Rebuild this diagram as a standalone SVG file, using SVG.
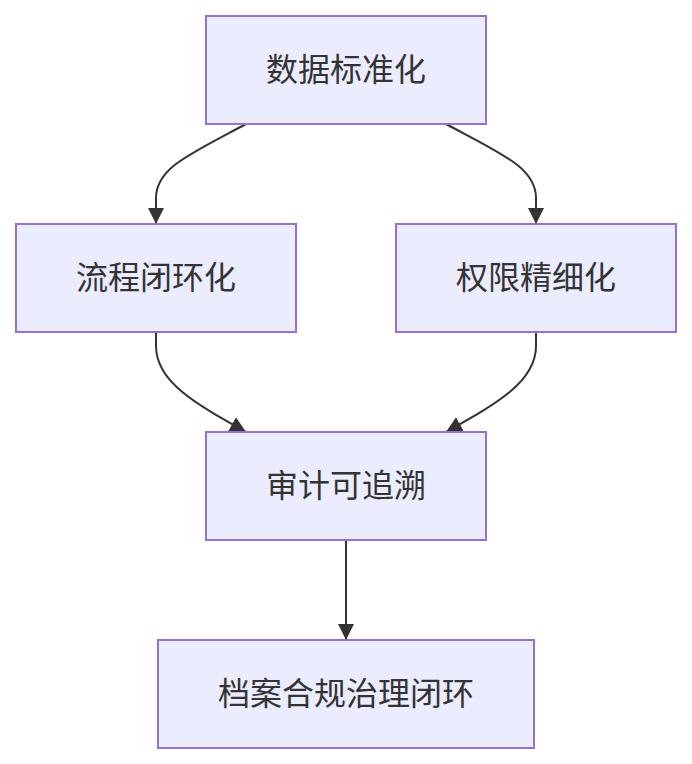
<svg xmlns="http://www.w3.org/2000/svg" width="692" height="764" viewBox="0 0 692 764">
<style>
.node rect{fill:#ECECFF;stroke:#9370DB;stroke-width:2}
.node text{font-family:"Noto Sans CJK SC","Liberation Sans",sans-serif;font-size:32px;fill:#333;text-anchor:middle}
.edge{fill:none;stroke:#333;stroke-width:2;marker-end:url(#arrow)}
</style>
<defs>
<marker id="arrow" viewBox="0 0 10 10" refX="10" refY="5" markerWidth="16" markerHeight="16" markerUnits="userSpaceOnUse" orient="auto">
<path d="M0,0 L10,5 L0,10 z" fill="#333"/>
</marker>
</defs>
<rect width="692" height="764" fill="#fff"/>
<g id="connectors">
<path class="edge" d="M246,124 C190,154 156,168 156,198 L156,224"/>
<path class="edge" d="M446,124 C502,154 536,168 536,198 L536,224"/>
<path class="edge" d="M156,332 L156,346 C156,382 196,404 246,432"/>
<path class="edge" d="M536,332 L536,346 C536,382 496,404 446,432"/>
<path class="edge" d="M346,540 L346,640"/>
</g>
<g id="n1" class="node"><rect x="206" y="16" width="280" height="108"/><text x="346" y="81">数据标准化</text></g>
<g id="n2" class="node"><rect x="16" y="224" width="280" height="108"/><text x="156" y="289">流程闭环化</text></g>
<g id="n3" class="node"><rect x="396" y="224" width="280" height="108"/><text x="536" y="289">权限精细化</text></g>
<g id="n4" class="node"><rect x="206" y="432" width="280" height="108"/><text x="346" y="497">审计可追溯</text></g>
<g id="n5" class="node"><rect x="158" y="640" width="376" height="108"/><text x="346" y="705">档案合规治理闭环</text></g>
</svg>
